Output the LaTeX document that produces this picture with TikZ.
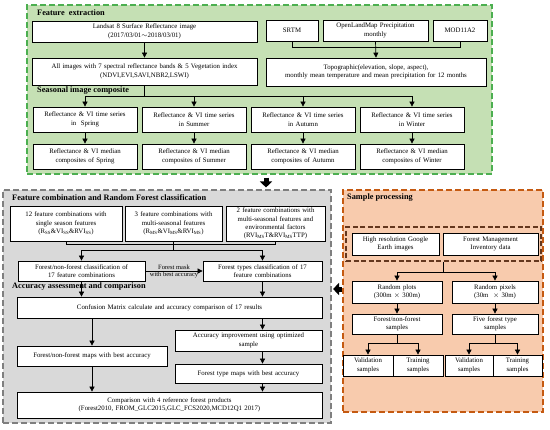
\documentclass[tikz,border=0pt]{standalone}
\usepackage{fontspec}
\setmainfont{Liberation Serif}
\usetikzlibrary{arrows.meta,calc}
\definecolor{gfill}{RGB}{197,224,180}
\definecolor{gline}{RGB}{76,175,80}
\definecolor{kfill}{RGB}{217,217,217}
\definecolor{kline}{RGB}{127,127,127}
\definecolor{ofill}{RGB}{248,203,173}
\definecolor{oline}{RGB}{197,90,17}
\definecolor{iline}{RGB}{100,55,30}
\newcommand\boxfont{\fontsize{6.8bp}{8.4bp}\selectfont}
\newcommand\lblfont{\fontsize{6.5bp}{8bp}\selectfont}
\newcommand\sbs[1]{\textsubscript{#1}}
\newcommand\mkbox[7][box]{%
 \pgfmathsetmacro\bw{#5-#3}%
 \pgfmathsetmacro\bh{#6-#4}%
 \pgfmathsetmacro\tw{max(#5-#3-3,1)}%
 \pgfmathsetmacro\cx{(#3+#5)/2}%
 \pgfmathsetmacro\cy{(#4+#6)/2}%
 \node[#1,minimum width=\bw bp,minimum height=\bh bp,text width=\tw bp] (#2) at (\cx,\cy) {#7};}
\tikzset{
 box/.style={draw=black, line width=0.75bp, fill=white, inner sep=0pt, align=center, font=\boxfont},
 gbox/.style={draw=gline, fill=gfill, dash pattern=on 6bp off 3bp, line width=1.3bp, inner sep=0pt},
 kbox/.style={draw=kline, fill=kfill, dash pattern=on 6bp off 3bp, line width=1.1bp, inner sep=0pt},
 obox/.style={draw=oline, fill=ofill, dash pattern=on 6bp off 3bp, line width=1.1bp, inner sep=0pt},
 ibox/.style={draw=iline, dash pattern=on 5bp off 2.5bp, line width=1.1bp, inner sep=0pt},
 ttl/.style={anchor=west, inner sep=0pt, font=\fontsize{8.3bp}{10bp}\selectfont\bfseries},
 ln/.style={line width=0.7bp},
 arr/.style={line width=0.7bp, -{Triangle[width=5bp,length=5bp]}},
 big/.style={line width=5bp, -{Triangle[width=12bp,length=6bp]}},
}
\begin{document}
\begin{tikzpicture}[x=1bp,y=-1bp]
\useasboundingbox (0,0) rectangle (550,429);
\fill[white] (0,0) rectangle (550,429);
% ---------- containers
\mkbox[gbox]{green}{27}{5}{492}{174}{}
\mkbox[kbox]{gray}{3}{190}{331}{423}{}
\mkbox[obox]{orange}{343}{190}{543}{412}{}
% ---------- feature extraction
\node[ttl] (t1) at (37,13) {Feature\ \ extraction};
\mkbox{ls}{32}{21}{257}{42}{Landsat 8 Surface Reflectance image\\(2017/03/01$\sim$2018/03/01)}
\mkbox{ai}{32}{58}{257}{85}{All images with 7 spectral reflectance bands \& 5 Vegetation index\\(NDVI,EVI,SAVI,NBR2,LSWI)}
\mkbox{srtm}{266}{20}{318}{41}{SRTM}
\mkbox{olm}{323}{20}{428}{41}{OpenLandMap Precipitation\\monthly}
\mkbox{mod}{433}{20}{487}{41}{MOD11A2}
\mkbox{topo}{266}{58}{486}{86}{Topographic(elevation, slope, aspect),\\monthly mean temperature and mean precipitation for 12 months}
\node[ttl] (t2) at (37,91) {Seasonal image composite};
\mkbox{sp}{33}{107}{137}{132}{Reflectance \& VI time series\\in\ \ Spring}
\mkbox{su}{142}{107}{246}{132}{Reflectance \& VI time series\\in Summer}
\mkbox{au}{251}{107}{355}{132}{Reflectance \& VI time series\\in Autumn}
\mkbox{wi}{360}{107}{464}{132}{Reflectance \& VI time series\\in Winter}
\mkbox{msp}{33}{144}{137}{169}{Reflectance \& VI median\\composites of Spring}
\mkbox{msu}{142}{144}{246}{169}{Reflectance \& VI median\\composites of Summer}
\mkbox{mau}{251}{144}{355}{169}{Reflectance \& VI median\\composites of Autumn}
\mkbox{mwi}{360}{144}{464}{169}{Reflectance \& VI median\\composites of Winter}
\draw[arr] (ls.south) -- (ai.north);
\coordinate (sj) at (0,96);
\draw[ln] (ai.south) -- (ai.south |- sj);
\draw[ln] (sp.north |- sj) -- (wi.north |- sj);
\foreach \s in {sp,su,au,wi}{\draw[arr] (\s.north |- sj) -- (\s.north);}
\draw[arr] (sp.south) -- (msp.north);
\draw[arr] (su.south) -- (msu.north);
\draw[arr] (au.south) -- (mau.north);
\draw[arr] (wi.south) -- (mwi.north);
\coordinate (tj) at (0,47);
\draw[ln] (srtm.south) -- (srtm.south |- tj) -| (mod.south);
\draw[arr] (olm.south) -- (topo.north);
% ---------- big arrows
\coordinate (bx) at (266,0);
\draw[big, shorten <=3bp, shorten >=2bp] (green.south -| bx) -- (gray.north -| bx);
\coordinate (by) at (0,289);
\draw[big, shorten <=0bp, shorten >=1.5bp] (orange.west |- by) -- (gray.east |- by);
% ---------- feature combination
\node[ttl] (t3) at (12,198) {Feature combination and Random Forest classification};
\mkbox{fc1}{10}{206}{122}{241}{12 feature combinations with\\single season features\\(R\sbs{SS}\&VI\sbs{SS}\&RVI\sbs{SS})}
\mkbox{fc2}{125}{206}{222}{241}{3 feature combinations with\\multi-seasonal features\\(R\sbs{MS}\&VI\sbs{MS}\&RVI\sbs{MS})}
\mkbox[box,font=\fontsize{6.8bp}{8.2bp}\selectfont]{fc3}{226}{206}{325}{241}{2 feature combinations with\\multi-seasonal features and\\environmental factors\\(RVI\sbs{MS}T\&RVI\sbs{MS}TTP)}
\mkbox{cl1}{18}{261}{145}{281}{Forest/non-forest classification of\\17 feature combinations}
\mkbox{cl2}{203}{261}{322}{281}{Forest types classification of 17\\feature combinations}
\coordinate (fj1) at (0,244);
\coordinate (fj2) at (0,250);
\draw[ln] (fc1.south) -- (fc1.south |- fj1) -- (fc3.south |- fj1) -- (fc3.south);
\draw[ln] (fc2.south) -- (fc2.south |- fj2);
\draw[ln] (cl1.north |- fj2) -- (cl2.north |- fj2);
\draw[arr] (cl1.north |- fj2) -- (cl1.north);
\draw[arr] (cl2.north |- fj2) -- (cl2.north);
\draw[arr] (cl1.east) -- (cl2.west)
  node[midway, above, inner sep=0.8bp, font=\lblfont] (fm) {Forest mask}
  node[midway, below, inner sep=0.8bp, font=\lblfont] (wb) {with best accuracy};
% ---------- accuracy assessment
\node[ttl] (t4) at (12,287) {Accuracy assessment and comparison};
\mkbox{cm}{17}{297}{322}{318}{Confusion Matrix calculate and accuracy comparison of 17 results}
\mkbox{fnf}{17}{346}{167}{366}{Forest/non-forest maps with best accuracy}
\mkbox{aim}{175}{330}{322}{351}{Accuracy improvement using optimized\\sample}
\mkbox{ftm}{175}{364}{322}{383}{Forest type maps with best accuracy}
\mkbox{cmp}{17}{392}{322}{418}{Comparison with 4 reference forest products\\(Forest2010, FROM\_GLC2015,GLC\_FCS2020,MCD12Q1 2017)}
\draw[arr] (cl1.south) -- (cl1.south |- cm.north);
\draw[arr] (cl2.south) -- (cl2.south |- cm.north);
\draw[arr] (cm.south -| fnf.north) -- (fnf.north);
\draw[arr] (cm.south -| cl2.south) -- (aim.north -| cl2.south);
\draw[arr] (aim.south -| cl2.south) -- (ftm.north -| cl2.south);
\draw[arr] (fnf.south) -- (cmp.north -| fnf.south);
\draw[arr] (ftm.south -| cl2.south) -- (cmp.north -| cl2.south);
% ---------- sample processing
\node[ttl] (t5) at (347,198) {Sample processing};
\mkbox[ibox]{inner}{346}{227}{541}{261}{}
\mkbox{hr}{352}{233}{439}{255}{High resolution Google\\Earth images}
\mkbox{fmi}{443}{233}{538}{255}{Forest Management\\Inventory data}
\mkbox{rp}{352}{281}{442}{303}{Random plots\\(300m $\times$ 300m)}
\mkbox{rpx}{452}{281}{538}{303}{Random pixels\\(30m\ \ $\times$ 30m)}
\mkbox{fns}{352}{314}{442}{334}{Forest/non-forest\\samples}
\mkbox{fts}{452}{314}{538}{334}{Five forest type\\samples}
\mkbox{v1}{343}{355}{393}{376}{Validation\\samples}
\mkbox{tr1}{393}{355}{443}{376}{Training\\samples}
\mkbox{v2}{445}{355}{493}{376}{Validation\\samples}
\mkbox{tr2}{493}{355}{542}{376}{Training\\samples}
\coordinate (sx) at (443,0);
\coordinate (sy) at (0,272);
\draw[ln] (inner.south -| sx) -- (sx |- sy);
\draw[ln] (rp.north |- sy) -- (rpx.north |- sy);
\draw[arr] (rp.north |- sy) -- (rp.north);
\draw[arr] (rpx.north |- sy) -- (rpx.north);
\draw[arr] (rp.south) -- (fns.north);
\draw[arr] (rpx.south) -- (fts.north);
\coordinate (vy) at (0,343);
\draw[ln] (fns.south) -- (fns.south |- vy);
\draw[ln] (v1.north |- vy) -- (tr1.north |- vy);
\draw[arr] (v1.north |- vy) -- (v1.north);
\draw[arr] (tr1.north |- vy) -- (tr1.north);
\draw[ln] (fts.south) -- (fts.south |- vy);
\draw[ln] (v2.north |- vy) -- (tr2.north |- vy);
\draw[arr] (v2.north |- vy) -- (v2.north);
\draw[arr] (tr2.north |- vy) -- (tr2.north);
\end{tikzpicture}
\end{document}
